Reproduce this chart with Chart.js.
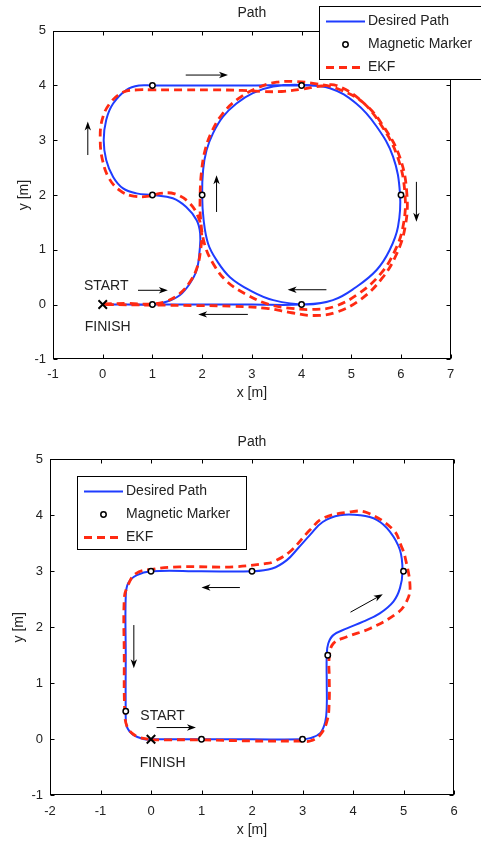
<!DOCTYPE html>
<html>
<head>
<meta charset="utf-8">
<script src="https://cdn.jsdelivr.net/npm/chart.js@4/dist/chart.umd.min.js"></script>
<style>
  body { margin: 0; background: #fff; }
  .wrap { position: absolute; left: 0; width: 481px; }
  canvas { display: block; }
</style>
</head>
<body>
<div class="wrap" style="top:0"><canvas id="topChart" width="481" height="420"></canvas></div>
<div class="wrap" style="top:420px"><canvas id="bottomChart" width="481" height="421"></canvas></div>
<script>
// --- Data (x, y in metres) ---

// upper figure
const topDesired = [
  [0,0],[0.5,0],[1,0],[1.28,0.05],[1.55,0.17],[1.75,0.38],[1.89,0.63],[1.95,0.99],[1.96,1.3],
  [1.89,1.54],[1.68,1.78],[1.41,1.94],[1,2],
  [0.68,2.03],[0.41,2.12],[0.21,2.33],[0.07,2.64],[0.02,3],[0.07,3.37],[0.21,3.67],[0.48,3.92],[0.74,4],[1,4],
  [2,4],[3,4],[3.96,4],
  [4.57,3.95],[5.1,3.67],[5.51,3.25],[5.84,2.7],[5.98,2.02],[5.94,1.42],[5.77,0.99],[5.51,0.63],[5.1,0.32],[4.63,0.08],[4.1,0],
  [3.43,0.08],[2.96,0.26],[2.56,0.5],[2.29,0.81],[2.12,1.11],[2.03,1.54],[2,2],
  [2.02,2.46],[2.09,2.82],[2.22,3.13],[2.42,3.43],[2.69,3.67],[3.02,3.86],[3.43,3.98],[3.96,4.01],
  [4.57,3.95],[5.1,3.67],[5.51,3.25],[5.84,2.7],[5.98,2.02],[5.94,1.42],[5.77,0.99],[5.51,0.63],[5.1,0.32],[4.63,0.08],[4,0],
  [3,0],[2,0],[1,0],[0,0]
];
const topEkf = [
  [0.02,0.01],[0.5,0.02],[1,0.01],[1.28,0.06],[1.55,0.2],[1.76,0.42],[1.9,0.68],[1.97,1],[1.99,1.3],
  [1.93,1.58],[1.75,1.85],[1.45,2.02],[1.15,2.03],[0.95,1.98],
  [0.62,1.98],[0.35,2.08],[0.13,2.3],[0,2.62],[-0.05,3],[-0.01,3.38],[0.15,3.68],[0.42,3.88],[0.7,3.92],[1,3.92],
  [1.6,3.92],[2.2,3.92],[2.8,3.91],[3.2,3.89],[3.6,3.89],[4,3.93],[4.4,3.99],[4.7,4],
  [5.2,3.72],[5.6,3.28],[5.93,2.7],[6.08,2.02],[6.04,1.42],[5.86,0.95],[5.58,0.55],[5.15,0.2],[4.65,-0.04],[4.2,-0.09],[3.8,-0.07],
  [3.35,0],[2.9,0.18],[2.5,0.42],[2.22,0.75],[2.05,1.1],[1.97,1.55],[1.96,2],
  [1.99,2.45],[2.06,2.82],[2.19,3.15],[2.4,3.47],[2.7,3.74],[3.1,3.95],[3.5,4.06],[3.9,4.07],[4.3,4.03],
  [4.75,3.93],[5.25,3.68],[5.65,3.25],[5.98,2.68],[6.12,2],[6.08,1.4],[5.9,0.9],[5.62,0.48],[5.2,0.1],[4.7,-0.14],[4.25,-0.2],
  [3.8,-0.15],[3.3,-0.07],[2.6,-0.03],[2,-0.02],[1,-0.01],[0.05,0]
];
const topMarkers = [[1,0],[1,2],[1,4],[4,4],[6,2],[4,0],[2,2]];
const topStart = [[0,0]];
const topArrows = [
  [1.67,4.19,2.52,4.19],[-0.3,2.73,-0.3,3.34],[2.29,1.69,2.29,2.36],[6.31,2.24,6.31,1.51],
  [4.5,0.27,3.72,0.27],[2.92,-0.18,1.92,-0.18],[0.71,0.26,1.31,0.26]
];
const topNotes = [['START',0.07,0.33],['FINISH',0.1,-0.41]];

// lower figure
const bottomDesired = [
  [0,0],[1,0],[2,0],[3,0],[3.15,0.02],[3.35,0.11],[3.45,0.31],[3.48,0.58],[3.48,1],[3.48,1.5],
  [3.51,1.71],[3.61,1.86],[3.88,1.98],[4.2,2.1],[4.53,2.25],[4.8,2.46],[4.93,2.7],[4.98,3],
  [4.93,3.38],[4.73,3.71],[4.47,3.92],[4.14,4],[3.74,4],[3.4,3.88],[3.15,3.65],[2.92,3.42],[2.69,3.2],[2.4,3.05],[2,3],
  [1,3],[0,3],[-0.28,2.93],[-0.45,2.79],[-0.5,2.55],[-0.5,1.5],[-0.5,0.5],[-0.48,0.23],[-0.35,0.08],[-0.12,0],[0,0]
];
const bottomEkf = [
  [0,-0.01],[1,-0.01],[2,-0.03],[2.95,-0.03],[3.15,-0.03],[3.35,0.08],[3.49,0.34],[3.53,0.7],[3.53,1.1],[3.53,1.47],
  [3.61,1.71],[3.88,1.83],[4.34,1.98],[4.87,2.25],[5.06,2.46],[5.13,2.72],[5.03,3.26],[4.96,3.44],[4.8,3.74],
  [4.27,4.05],[3.94,4.06],[3.41,3.95],[3.15,3.74],[2.75,3.35],[2.42,3.17],[2.29,3.14],[1.63,3.08],[0.57,3.08],[0.05,3.04],
  [-0.3,2.96],[-0.47,2.72],[-0.53,2.5],[-0.53,1.5],[-0.52,0.5],[-0.47,0.22],[-0.3,0.06],[-0.05,0]
];
const bottomMarkers = [[1,0],[3,0],[3.5,1.5],[5,3],[2,3],[0,3],[-0.5,0.5]];
const bottomStart = [[0,0]];
const bottomArrows = [[1.76,2.71,1,2.71],[-0.34,2.04,-0.34,1.27],[0.11,0.21,0.89,0.21],[3.95,2.27,4.59,2.59]];
const bottomNotes = [['START',0.23,0.42],['FINISH',0.23,-0.42]];

const xTicksTop = [-1,0,1,2,3,4,5,6,7];
const yTicksTop = [-1,0,1,2,3,4,5];
const xTicksBottom = [-2,-1,0,1,2,3,4,5,6];
const yTicksBottom = [-1,0,1,2,3,4,5];

const FONT = "'Liberation Sans', Arial, sans-serif";
const INK = '#222';

function toPts(arr) {
  return arr.map(p => ({ x: p[0], y: p[1] }));
}

// box with inward ticks, arrows, notes and the boxed legend
const decor = {
  id: 'decor',
  afterDatasetsDraw(chart, args, opts) {
    const { ctx, chartArea: a, scales: { x, y } } = chart;
    const L = Math.round(a.left) + 0.5, R = Math.round(a.right) - 0.5;
    const T = Math.round(a.top) + 0.5, B = Math.round(a.bottom) - 0.5;
    ctx.save();
    ctx.strokeStyle = '#000';
    ctx.lineWidth = 1;
    ctx.strokeRect(L, T, R - L, B - T);
    ctx.beginPath();
    x.ticks.forEach(t => {
      const p = Math.round(x.getPixelForValue(t.value)) + 0.5;
      ctx.moveTo(p, B); ctx.lineTo(p, B - 4);
      ctx.moveTo(p, T); ctx.lineTo(p, T + 4);
    });
    y.ticks.forEach(t => {
      const p = Math.round(y.getPixelForValue(t.value)) + 0.5;
      ctx.moveTo(L, p); ctx.lineTo(L + 4, p);
      ctx.moveTo(R, p); ctx.lineTo(R - 4, p);
    });
    ctx.stroke();

    // arrows
    ctx.fillStyle = '#000';
    opts.arrows.forEach(ar => {
      const x1 = x.getPixelForValue(ar[0]), y1 = y.getPixelForValue(ar[1]);
      const x2 = x.getPixelForValue(ar[2]), y2 = y.getPixelForValue(ar[3]);
      const ang = Math.atan2(y2 - y1, x2 - x1);
      const c = Math.cos(ang), s = Math.sin(ang);
      ctx.beginPath();
      ctx.moveTo(x1, y1);
      ctx.lineTo(x2 - 5 * c, y2 - 5 * s);
      ctx.stroke();
      ctx.beginPath();
      ctx.moveTo(x2, y2);
      ctx.lineTo(x2 - 9 * c - 3.2 * s, y2 - 9 * s + 3.2 * c);
      ctx.lineTo(x2 - 6.5 * c, y2 - 6.5 * s);
      ctx.lineTo(x2 - 9 * c + 3.2 * s, y2 - 9 * s - 3.2 * c);
      ctx.closePath();
      ctx.fill();
    });

    // notes
    ctx.fillStyle = INK;
    ctx.font = '14px ' + FONT;
    ctx.textAlign = 'center';
    ctx.textBaseline = 'middle';
    opts.notes.forEach(n => {
      ctx.fillText(n[0], x.getPixelForValue(n[1]), y.getPixelForValue(n[2]));
    });
    ctx.restore();
  },
  afterDraw(chart, args, opts) {
    const { ctx } = chart;
    const b = opts.box;
    ctx.save();
    ctx.fillStyle = '#fff';
    ctx.fillRect(b.left, b.top, b.width, b.height);
    ctx.strokeStyle = '#000';
    ctx.lineWidth = 1;
    ctx.strokeRect(b.left + 0.5, b.top + 0.5, b.width, b.height);
    ctx.font = '14px ' + FONT;
    ctx.textBaseline = 'middle';
    ctx.textAlign = 'left';
    ['Desired Path', 'Magnetic Marker', 'EKF'].forEach((name, i) => {
      const ds = chart.data.datasets.find(d => d.label === name);
      const cy = b.top + 15.5 + i * 23;
      const x0 = b.left + 7, x1 = b.left + 46;
      if (ds.showLine) {
        ctx.strokeStyle = ds.borderColor;
        ctx.lineWidth = ds.borderWidth;
        ctx.setLineDash(ds.borderDash || []);
        ctx.beginPath();
        ctx.moveTo(x0, cy); ctx.lineTo(x1, cy);
        ctx.stroke();
        ctx.setLineDash([]);
      } else {
        ctx.strokeStyle = ds.pointBorderColor;
        ctx.fillStyle = ds.pointBackgroundColor;
        ctx.lineWidth = ds.pointBorderWidth;
        ctx.beginPath();
        ctx.arc((x0 + x1) / 2, cy, ds.pointRadius, 0, Math.PI * 2);
        ctx.fill(); ctx.stroke();
      }
      ctx.fillStyle = INK;
      ctx.fillText(name, b.left + 49, cy);
    });
    ctx.restore();
  }
};

function buildChart(id, d) {
  return new Chart(document.getElementById(id), {
    type: 'scatter',
    data: {
      datasets: [
        { label: 'Magnetic Marker', data: toPts(d.markers), showLine: false,
          pointStyle: 'circle', pointRadius: 2.7, pointBorderWidth: 1.5,
          pointBorderColor: '#000', pointBackgroundColor: '#fff', order: 0 },
        { label: 'Start', data: toPts(d.start), showLine: false,
          pointStyle: 'crossRot', pointRadius: 6, pointBorderWidth: 2,
          pointBorderColor: '#000', order: 0 },
        { label: 'EKF', data: toPts(d.ekf), showLine: true, borderColor: '#ff2a12',
          borderWidth: 2.8, borderDash: [8, 5], pointRadius: 0, tension: 0.4, fill: false, order: 1 },
        { label: 'Desired Path', data: toPts(d.desired), showLine: true, borderColor: '#1f3cff',
          borderWidth: 2, pointRadius: 0, tension: 0.4, fill: false, order: 2 }
      ]
    },
    options: {
      responsive: false,
      animation: false,
      devicePixelRatio: 1,
      layout: { padding: { left: 0, right: d.padRight, top: 0, bottom: 0 } },
      plugins: {
        legend: { display: false },
        tooltip: { enabled: false },
        title: {
          display: true, text: 'Path', fullSize: false, color: INK,
          font: { family: FONT, size: 14, weight: 'normal' },
          padding: d.titlePad
        },
        decor: { arrows: d.arrows, notes: d.notes, box: d.legendBox }
      },
      scales: {
        x: {
          type: 'linear', min: d.xTicks[0], max: d.xTicks[d.xTicks.length - 1],
          afterBuildTicks: s => { s.ticks = d.xTicks.map(v => ({ value: v })); },
          grid: { display: false, drawTicks: false },
          border: { display: false },
          ticks: { color: INK, font: { family: FONT, size: 13 }, padding: d.xTickPad, maxRotation: 0 },
          title: { display: true, text: 'x [m]', color: INK, font: { family: FONT, size: 14 },
                   padding: { top: 0, bottom: d.xTitlePad } },
          afterFit: s => { s.height = d.xAxisH; }
        },
        y: {
          type: 'linear', min: d.yTicks[0], max: d.yTicks[d.yTicks.length - 1],
          afterBuildTicks: s => { s.ticks = d.yTicks.map(v => ({ value: v })); },
          grid: { display: false, drawTicks: false },
          border: { display: false },
          ticks: { color: INK, font: { family: FONT, size: 13 }, padding: 7 },
          title: { display: true, text: 'y [m]', color: INK, font: { family: FONT, size: 14 },
                   padding: { top: d.yTitlePad, bottom: 0 } },
          afterFit: s => { s.width = d.yAxisW; }
        }
      }
    },
    plugins: [decor]
  });
}

buildChart('topChart', {
  desired: topDesired, ekf: topEkf, markers: topMarkers, start: topStart,
  arrows: topArrows, notes: topNotes, xTicks: xTicksTop, yTicks: yTicksTop,
  padRight: 30.3, titlePad: { top: 4.6, bottom: 9.3 }, xTickPad: 7, xTitlePad: 18, yTitlePad: 15.6,
  xAxisH: 60.7, yAxisW: 53,
  legendBox: { left: 319, top: 6, width: 170, height: 73 }
});

buildChart('bottomChart', {
  desired: bottomDesired, ekf: bottomEkf, markers: bottomMarkers, start: bottomStart,
  arrows: bottomArrows, notes: bottomNotes, xTicks: xTicksBottom, yTicks: yTicksBottom,
  padRight: 27, titlePad: { top: 13.6, bottom: 8.9 }, xTickPad: 8, xTitlePad: 2, yTitlePad: 10.6,
  xAxisH: 45.7, yAxisW: 50,
  legendBox: { left: 77, top: 56, width: 169, height: 73 }
});
</script>
</body>
</html>
